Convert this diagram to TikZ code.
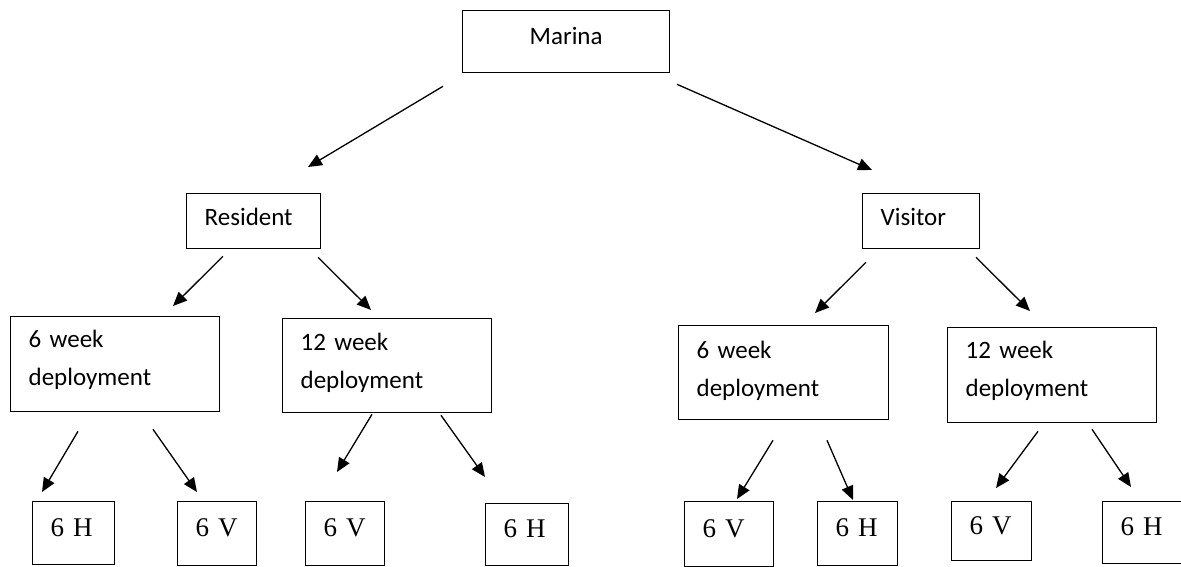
\documentclass[tikz,border=0pt]{standalone}
\usepackage{fontspec}
\newfontfamily\carlitofont{Carlito}
\newfontfamily\timesfont{Liberation Serif}
\usetikzlibrary{arrows.meta,calc}
\begin{document}
\begin{tikzpicture}[x=1pt,y=-1pt,
  box/.style={draw, line width=1.3pt, anchor=north west, inner ysep=0pt, inner xsep=18pt, align=left},
  sans/.style={font=\carlitofont\fontsize{25}{38}\selectfont},
  twoline/.style={box, sans},
  leaf/.style={box, font=\timesfont\fontsize{27}{32}\selectfont, text depth=12pt},
  arr/.style={line width=1.3pt, -{Triangle[length=14pt,width=12pt]}}]
\useasboundingbox (0,0) rectangle (1181,566);

% top levels
\node[box, sans, align=center, text width=171pt, minimum width=207pt, minimum height=62pt, text depth=12pt] (marina) at (462,10) {Marina};
\node[box, sans, text width=98pt, minimum width=134pt, minimum height=55pt, text depth=8pt] (res) at (186,193) {Resident};
\node[box, sans, text width=81pt, minimum width=117pt, minimum height=55pt, text depth=8pt] (vis) at (862,193) {Visitor};

% deployment boxes
\node[twoline, text width=173pt, minimum width=209pt, minimum height=95pt, text depth=50pt] (w6L) at (10,316) {6 week\\deployment};
\node[twoline, text width=173pt, minimum width=209pt, minimum height=94pt, text depth=47pt] (w12L) at (282,318) {12 week\\deployment};
\node[twoline, text width=174pt, minimum width=210pt, minimum height=94pt, text depth=46pt] (w6R) at (678,325) {6 week\\deployment};
\node[twoline, text width=173pt, minimum width=209pt, minimum height=95pt, text depth=50pt] (w12R) at (947,327) {12 week\\deployment};

% leaves
\node[leaf, text width=46pt, minimum width=82pt, minimum height=63pt] (b1) at (32,501) {6~H};
\node[leaf, text width=43pt, minimum width=79pt, minimum height=64pt] (b2) at (177,501) {6~V};
\node[leaf, text width=43pt, minimum width=79pt, minimum height=64pt] (b3) at (305,501) {6~V};
\node[leaf, text width=47pt, minimum width=83pt, minimum height=62pt] (b4) at (485,503) {6~H};
\node[leaf, text width=53pt, minimum width=89pt, minimum height=65pt] (b5) at (684,501) {6~V};
\node[leaf, text width=44pt, minimum width=80pt, minimum height=64pt] (b6) at (817,501) {6~H};
\node[leaf, text width=44pt, minimum width=80pt, minimum height=59pt] (b7) at (951,501) {6~V};
\node[leaf, text width=52pt, minimum width=88pt, minimum height=62pt] (b8) at (1102,501) {6~H};

% connectors
\draw[arr] ($(marina.south west)+(-19,13)$) -- ($(res.north west)+(122,-26)$);
\draw[arr] ($(marina.south west)+(215,11)$) -- ($(vis.north west)+(10,-23)$);
\draw[arr] ($(res.south west)+(37,7)$) -- ($(w6L.north west)+(163,-10)$);
\draw[arr] ($(res.south west)+(132,8)$) -- ($(w12L.north west)+(89,-8)$);
\draw[arr] ($(vis.south west)+(4,13)$) -- ($(w6R.north west)+(137,-12)$);
\draw[arr] ($(vis.south west)+(114,8)$) -- ($(w12R.north west)+(83,-16)$);
\draw[arr] ($(w6L.south west)+(68,19)$) -- ($(b1.north west)+(10,-9)$);
\draw[arr] ($(w6L.south west)+(143,17)$) -- ($(b2.north west)+(20,-9)$);
\draw[arr] ($(w12L.south west)+(90,1)$) -- ($(b3.north west)+(32,-29)$);
\draw[arr] ($(w12L.south west)+(159,2)$) -- ($(b4.north west)+(0,-26)$);
\draw[arr] ($(w6R.south west)+(95,20)$) -- ($(b5.north west)+(53,-2)$);
\draw[arr] ($(w6R.south west)+(149,20)$) -- ($(b6.north west)+(36,-1)$);
\draw[arr] ($(w12R.south west)+(91,8)$) -- ($(b7.north west)+(45,-13)$);
\draw[arr] ($(w12R.south west)+(145,6)$) -- ($(b8.north west)+(29,-14)$);
\end{tikzpicture}
\end{document}
